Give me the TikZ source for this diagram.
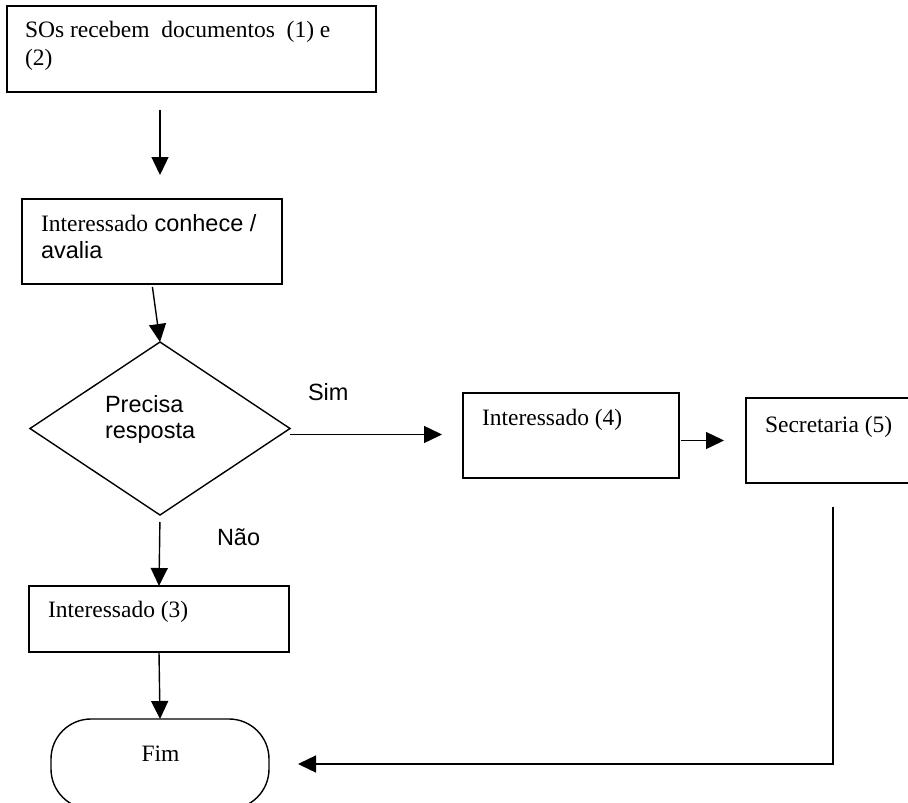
\documentclass[tikz,border=0pt]{standalone}
\usepackage{fontspec}
\setmainfont{Liberation Serif}
\newfontfamily\sansf{Liberation Sans}
\usetikzlibrary{shapes.geometric,arrows.meta}
\begin{document}
\begin{tikzpicture}[x=1pt,y=-1pt,
  box/.style={draw, line width=1.4pt, rectangle, inner sep=0pt, outer sep=0pt},
  decision/.style={draw, line width=1.4pt, diamond, inner sep=0pt, outer sep=0pt},
  terminal/.style={draw, line width=1.4pt, rectangle, rounded corners=40pt, inner sep=0pt, outer sep=0pt},
  txt/.style={anchor=base west, inner sep=0pt, outer sep=0pt, font=\fontsize{23.5}{28}\selectfont},
  stxt/.style={txt, font=\fontsize{23.5}{28}\selectfont\sansf},
  arr/.style={-{Triangle[length=18pt,width=17pt]}, line width=1.4pt}]
  \useasboundingbox (0,0) rectangle (908,803);
  \fill[white] (0,0) rectangle (908,803);
  \clip (0,0) rectangle (908,803);

  % boxes
  \node[box, minimum width=369pt, minimum height=86pt] (b1) at (191.5,49) {};
  \node[box, minimum width=260pt, minimum height=85pt] (b2) at (152,241.5) {};
  \node[decision, minimum width=260pt, minimum height=173pt] (dia) at (160,428.5) {};
  \node[box, minimum width=216pt, minimum height=85pt] (b4) at (571,435.5) {};
  \node[box, minimum width=174pt, minimum height=85pt] (b5) at (833,440.5) {};
  \node[box, minimum width=260pt, minimum height=66pt] (b3) at (159,619) {};
  \node[terminal, minimum width=218pt, minimum height=90pt] (fim) at (160,764) {};

  % texts
  \node[txt] (t1a) at (25,37) {SOs recebem\ \ documentos\ \ (1) e};
  \node[txt] (t1b) at (25,65) {(2)};
  \node[txt] (t2a) at (41,231) {Interessado{\sansf\ conhece /}};
  \node[stxt] (t2b) at (41,258) {avalia};
  \node[stxt] (tda) at (105,412) {Precisa};
  \node[stxt] (tdb) at (105,438) {resposta};
  \node[stxt] (tsim) at (308,400) {Sim};
  \node[stxt] (tnao) at (217,545) {Não};
  \node[txt] (t4) at (482,425) {Interessado (4)};
  \node[txt] (t5) at (765,432) {Secretaria (5)};
  \node[txt] (t3) at (48,617) {Interessado (3)};
  \node[txt, anchor=base] (tfim) at (160.5,761) {Fim};

  % connectors
  \draw[arr, shorten <=18pt, shorten >=24pt] (b1.south -| dia.north) -- (b2.north -| dia.north);
  \draw[arr, shorten <=3pt] (b2.south) -- (dia.north);
  \draw[arr, shorten >=21pt] ([yshift=-6pt]dia.east) -- ([yshift=-6pt]dia.east -| b4.west);
  \draw[arr, shorten <=2pt, shorten >=22pt] (b4.east |- b5.west) -- (b5.west);
  \draw[arr, shorten <=7pt] (dia.south) -- (b3.north);
  \draw[arr] (b3.south) -- (fim.north);
  \draw[arr, shorten <=24pt, shorten >=29pt] (b5.south) |- (fim.east);
\end{tikzpicture}
\end{document}
